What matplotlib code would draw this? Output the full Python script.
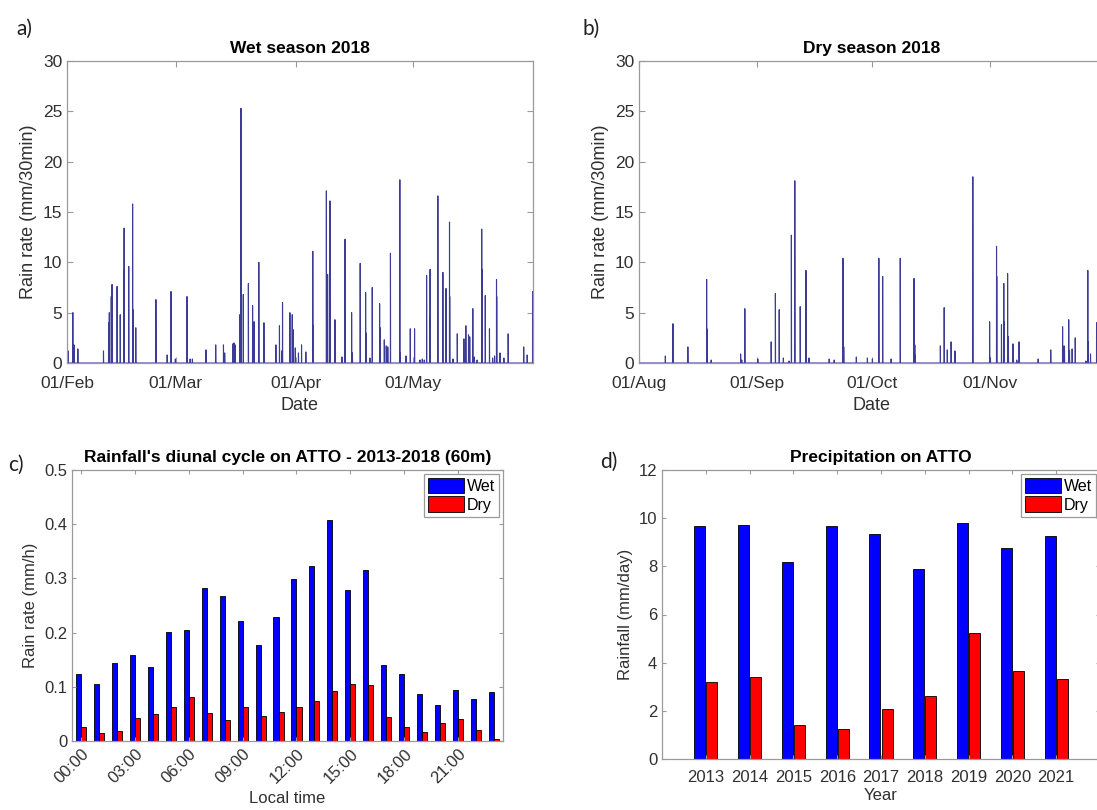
import numpy as np
import pandas as pd
import matplotlib
matplotlib.use('Agg')
import matplotlib.pyplot as plt
import matplotlib.dates as mdates

plt.rcParams.update({
    'font.family': ['Liberation Sans', 'DejaVu Sans'],
    'axes.edgecolor': '#9a9a9a',
    'axes.linewidth': 0.9,
    'xtick.color': '#9a9a9a',
    'ytick.color': '#9a9a9a',
    'xtick.labelcolor': '#303030',
    'ytick.labelcolor': '#303030',
    'xtick.direction': 'in',
    'ytick.direction': 'in',
    'xtick.top': True,
    'ytick.right': True,
    'axes.labelcolor': '#303030',
})

# 30-min rain rate peaks, wet season (days after 01/Feb/2018, mm/30min)
wet_day = [0.10, 0.30, 1.50, 1.80, 2.80, 9.40, 10.70, 10.90, 11.40, 11.60,
           12.90, 13.70, 14.70, 14.75, 15.90, 16.90, 16.95, 17.70, 22.90, 25.80,
           26.80, 27.90, 30.90, 31.70, 32.30, 35.80, 38.30, 40.30, 40.60, 42.70,
           43.00, 43.30, 44.50, 44.80, 45.40, 46.70, 47.80, 48.20, 49.40, 50.70,
           53.80, 54.70, 55.30, 55.50, 57.40, 58.00, 58.30, 58.80, 59.60, 60.40,
           61.50, 63.30, 63.35, 66.80, 67.10, 67.70, 67.75, 69.00, 69.05, 70.80,
           71.60, 71.65, 73.30, 73.50, 75.50, 76.90, 76.95, 78.00, 78.60, 80.50,
           80.60, 81.70, 82.20, 82.60, 83.30, 85.70, 85.75, 87.30, 88.40, 89.50,
           90.90, 91.50, 92.00, 92.60, 93.50, 93.55, 95.50, 96.80, 97.60, 98.50,
           98.55, 99.40, 100.50, 102.20, 102.70, 103.40, 103.70, 104.50, 104.90, 105.60,
           106.80, 106.85, 107.70, 108.80, 109.60, 110.10, 110.60, 110.65, 111.50, 112.50,
           113.60, 117.60, 118.50, 119.90]
wet_rain = [2.5, 1.2, 5.0, 1.8, 1.4, 1.2, 4.0, 5.0, 6.6, 7.8,
            7.6, 4.8, 13.4, 9.2, 9.6, 15.8, 5.3, 3.5, 6.3, 0.8,
            7.1, 0.4, 6.6, 0.4, 0.4, 1.3, 1.8, 1.8, 1.0, 1.9,
            2.0, 1.8, 4.8, 25.3, 6.8, 7.9, 5.7, 4.1, 10.0, 4.0,
            1.8, 3.7, 1.2, 6.0, 5.0, 4.8, 3.3, 1.5, 1.0, 1.8,
            1.1, 11.1, 3.7, 17.1, 8.8, 16.1, 6.1, 4.3, 1.9, 0.6,
            12.3, 8.6, 5.0, 1.0, 9.9, 7.0, 3.0, 0.5, 7.5, 5.9,
            3.5, 2.3, 1.7, 1.6, 10.9, 18.2, 1.0, 0.7, 3.4, 3.4,
            0.3, 0.4, 0.3, 8.7, 9.3, 4.6, 16.6, 9.0, 7.4, 14.0,
            6.6, 0.4, 2.9, 2.4, 3.7, 2.8, 2.6, 5.4, 0.6, 0.3,
            13.3, 9.3, 6.7, 3.4, 0.5, 0.7, 8.3, 6.6, 1.0, 0.5,
            2.9, 1.6, 0.8, 7.1]

# 30-min rain rate peaks, dry season (days after 01/Aug/2018, mm/30min)
dry_day = [6.90, 8.90, 12.80, 17.70, 17.75, 18.90, 26.60, 26.90, 27.70, 31.10,
           34.60, 35.70, 36.70, 37.80, 39.30, 39.90, 40.80, 42.20, 43.70, 44.50,
           49.80, 51.10, 53.40, 53.45, 53.60, 56.90, 59.80, 61.10, 62.80, 63.80,
           66.00, 68.40, 72.00, 72.20, 72.25, 78.90, 79.90, 80.70, 81.70, 82.70,
           82.75, 87.40, 91.80, 92.00, 93.60, 93.65, 94.90, 95.50, 95.55, 96.50,
           96.70, 97.90, 98.90, 99.50, 104.50, 107.80, 110.90, 111.30, 111.40, 112.50,
           112.70, 113.40, 114.20, 117.00, 117.50, 117.55, 118.20, 119.80]
dry_rain = [0.7, 3.9, 1.6, 8.3, 3.4, 0.3, 0.9, 0.3, 5.4, 0.4,
            2.1, 6.9, 5.3, 0.5, 0.2, 12.7, 18.1, 5.6, 9.2, 0.5,
            0.4, 0.3, 10.4, 6.3, 1.6, 0.6, 0.5, 0.4, 10.4, 8.6,
            0.4, 10.4, 8.4, 1.8, 0.8, 1.7, 5.5, 1.3, 2.1, 1.2,
            0.8, 18.5, 4.1, 0.5, 11.6, 8.6, 3.8, 7.9, 4.1, 8.9,
            2.6, 1.9, 0.3, 2.1, 0.4, 1.3, 3.6, 1.7, 1.2, 4.3,
            1.2, 1.4, 2.5, 0.2, 9.2, 2.1, 0.9, 4.0]

# diurnal cycle 2013-2018 (mm/h)
hours = np.arange(24)
diurnal_wet = [0.123, 0.105, 0.143, 0.158, 0.137, 0.201, 0.204, 0.282, 0.267, 0.221,
               0.177, 0.229, 0.298, 0.322, 0.407, 0.279, 0.315, 0.140, 0.123, 0.086,
               0.066, 0.095, 0.078, 0.090]
diurnal_dry = [0.025, 0.014, 0.019, 0.043, 0.049, 0.062, 0.082, 0.052, 0.039, 0.063,
               0.047, 0.054, 0.063, 0.073, 0.093, 0.106, 0.103, 0.045, 0.026, 0.017,
               0.033, 0.041, 0.021, 0.003]
hour_labels = ['00:00', '03:00', '06:00', '09:00', '12:00', '15:00', '18:00', '21:00']

# seasonal mean precipitation (mm/day)
years = np.arange(2013, 2022)
annual_wet = [9.69, 9.73, 8.19, 9.69, 9.33, 7.89, 9.79, 8.75, 9.27]
annual_dry = [3.21, 3.42, 1.41, 1.25, 2.09, 2.60, 5.25, 3.65, 3.32]

W, H = 1097, 810
fig = plt.figure(figsize=(W / 100, H / 100), dpi=100)


def box(l, t, r, b):
    return fig.add_axes([l / W, 1 - b / H, (r - l) / W, (b - t) / H])


def rain_series(start, end, days, rain):
    t = pd.date_range(start, end, freq='30min', inclusive='left')
    v = np.zeros(len(t))
    idx = np.round(np.array(days) * 48).astype(int)
    v[idx] = rain
    return t, v


line_col = '#3c3c96'

# a) wet season
ax1 = box(67, 61, 533, 363)
t, v = rain_series('2018-02-01', '2018-06-01', wet_day, wet_rain)
ax1.plot(t, v, color=line_col, lw=0.8)
ax1.set_xlim(pd.Timestamp('2018-02-01'), pd.Timestamp('2018-06-01'))
ax1.set_xticks([pd.Timestamp(f'2018-{m:02d}-01') for m in (2, 3, 4, 5)])

# b) dry season
ax2 = box(639, 61, 1105, 363)
t, v = rain_series('2018-08-01', '2018-12-01', dry_day, dry_rain)
ax2.plot(t, v, color=line_col, lw=0.8)
ax2.set_xlim(pd.Timestamp('2018-08-01'), pd.Timestamp('2018-12-01'))
ax2.set_xticks([pd.Timestamp(f'2018-{m:02d}-01') for m in (8, 9, 10, 11)])

for ax, ttl in ((ax1, 'Wet season 2018'), (ax2, 'Dry season 2018')):
    ax.xaxis.set_major_formatter(mdates.DateFormatter('%d/%b'))
    ax.set_ylim(0, 30)
    ax.set_yticks(range(0, 31, 5))
    ax.tick_params(labelsize=12.5, length=4)
    ax.tick_params(axis='x', pad=9)
    ax.set_title(ttl, fontsize=12.5, fontweight='bold', pad=6)
    ax.set_xlabel('Date', fontsize=13, labelpad=5)
    ax.set_ylabel('Rain rate (mm/30min)', fontsize=13)

# c) diurnal cycle
ax3 = box(72, 470, 503, 741)
ax3.bar(hours - 0.14, diurnal_wet, 0.28, color='#0000ff', edgecolor='black', lw=0.6, label='Wet')
ax3.bar(hours + 0.14, diurnal_dry, 0.28, color='#ff0000', edgecolor='black', lw=0.6, label='Dry')
ax3.set_xlim(-0.5, 23.5)
ax3.set_ylim(0, 0.5)
ax3.set_yticks(np.arange(0, 0.51, 0.1))
ax3.set_yticklabels(['0', '0.1', '0.2', '0.3', '0.4', '0.5'])
ax3.set_xticks(hours[::3])
ax3.set_xticklabels(hour_labels, rotation=45, ha='right', rotation_mode='anchor')
ax3.set_title("Rainfall's diunal cycle on ATTO - 2013-2018 (60m)", fontsize=12.5, fontweight='bold', pad=6)
ax3.set_xlabel('Local time', fontsize=12)
ax3.set_ylabel('Rain rate (mm/h)', fontsize=12)

# d) yearly precipitation
ax4 = box(662, 470, 1100, 759)
ax4.bar(years - 0.14, annual_wet, 0.25, color='#0000ff', edgecolor='black', lw=0.6, label='Wet')
ax4.bar(years + 0.14, annual_dry, 0.25, color='#ff0000', edgecolor='black', lw=0.6, label='Dry')
ax4.set_xlim(2012, 2022)
ax4.set_ylim(0, 12)
ax4.set_yticks(range(0, 13, 2))
ax4.set_xticks(years)
ax4.set_title('Precipitation on ATTO', fontsize=12.5, fontweight='bold', pad=6)
ax4.set_xlabel('Year', fontsize=12, labelpad=2)
ax4.set_ylabel('Rainfall (mm/day)', fontsize=12)

for ax in (ax3, ax4):
    ax.tick_params(labelsize=12, length=3)
    leg = ax.legend(loc='upper right', fontsize=11.5, fancybox=False, framealpha=1,
                    edgecolor='#9a9a9a', handlelength=2.2, handleheight=1.1,
                    handletextpad=0.2, borderpad=0.25, labelspacing=0.15,
                    borderaxespad=0.25)
    leg.get_frame().set_linewidth(0.9)
ax4.tick_params(axis='x', pad=8)

# panel letters
for x, y, s in ((16, 29, 'a)'), (583, 29, 'b)'), (8, 465, 'c)'), (600, 462, 'd)')):
    fig.text(x / W, 1 - y / H, s, fontsize=15, family=['Lato', 'DejaVu Sans'],
             va='center', ha='left', color='#202020')

fig.savefig('out.png', dpi=100)
